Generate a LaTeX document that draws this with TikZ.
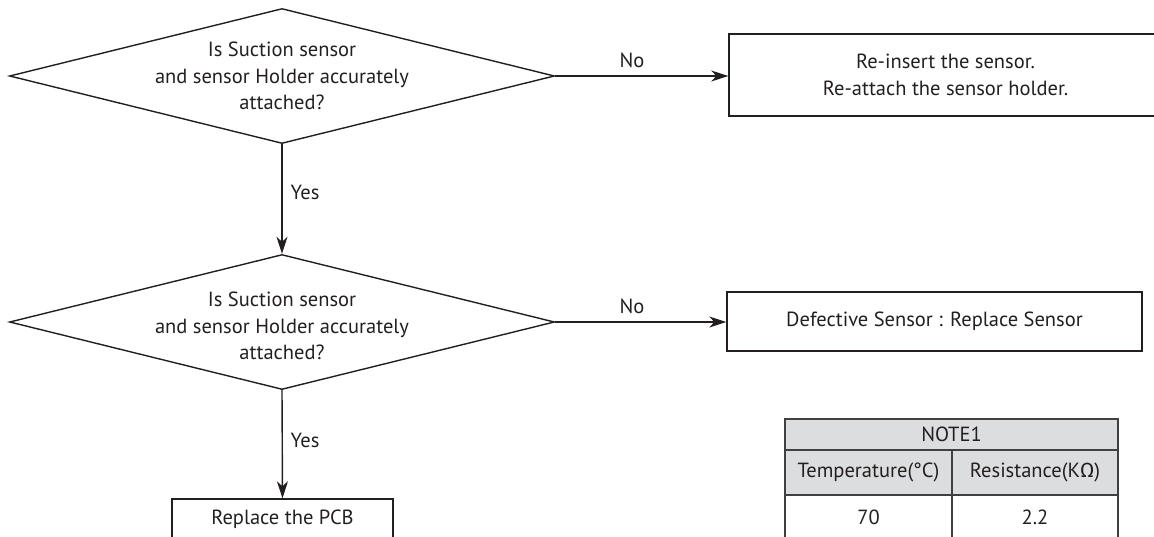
\documentclass[tikz,border=0pt]{standalone}
\usepackage{fontspec}
\setmainfont{PT Sans}
\newfontfamily\grkfont{Fira Sans}
\usetikzlibrary{shapes.geometric,arrows.meta,calc}
\definecolor{ink}{HTML}{231F20}
\definecolor{cellgrey}{HTML}{DCDDDE}
\definecolor{gridline}{HTML}{404040}
\begin{document}
\begin{tikzpicture}[x=1pt,y=-1pt,
  every node/.style={font=\fontsize{20.5}{26.5}\selectfont, text=ink},
  decision/.style={draw=ink, line width=1.4pt, diamond, inner sep=0pt,
    minimum width=545pt, minimum height=135pt},
  qtext/.style={align=center, inner sep=0pt},
  action/.style={draw=ink, line width=1.4pt, rectangle, align=center, inner sep=0pt},
  flow/.style={draw=ink, line width=1.4pt, -{Stealth[length=17pt,width=11pt,inset=5pt]}},
  edgelabel/.style={inner sep=0pt},
  cell/.style={draw=gridline, line width=1.5pt, rectangle, inner sep=0pt, align=center},
  headcell/.style={cell, fill=cellgrey}]
\useasboundingbox (0,0) rectangle (1154,536);
\clip (0,0) rectangle (1154,536);

% first check
\node[decision] (d1) at (282,76) {};
\node[qtext] (q1) at (282,76) {Is Suction sensor\\and sensor Holder accurately\\attached?};
\node[action, minimum width=433pt, minimum height=82pt] (b1) at (945.5,75)
  {Re-insert the sensor.\\Re-attach the sensor holder.};
\draw[flow] (d1.east) -- (d1.east -| b1.west);
\node[edgelabel] (no1) at (632,60) {No};

% second check
\node[decision] (d2) at (282,322) {};
\node[qtext] (q2) at (282,326) {Is Suction sensor\\and sensor Holder accurately\\attached?};
\node[action, minimum width=415pt, minimum height=59pt] (b2) at (934.5,321.5)
  {Defective Sensor : Replace Sensor};
\draw[flow] (d2.east) -- (d2.east -| b2.west);
\node[edgelabel] (no2) at (632,306) {No};

\draw[flow] (d1.south) -- (d2.north);
\node[edgelabel] (yes1) at (305,192) {Yes};

% final action
\node[action, minimum width=221pt, minimum height=41pt] (b3) at (282.5,519.5) {Replace the PCB};
\draw[flow] (d2.south) -- (b3.north);
\node[edgelabel] (yes2) at (305,440) {Yes};

% resistance table
\node[headcell, minimum width=333pt, minimum height=31pt] (note) at (951.5,434.5) {NOTE1};
\node[headcell, minimum width=167pt, minimum height=45pt] (th1) at (868.5,472.5) {Temperature(°C)};
\node[headcell, minimum width=166pt, minimum height=45pt] (th2) at (1035,472.5) {Resistance(K{\grkfont Ω})};
\node[cell, minimum width=167pt, minimum height=45pt] (td1) at (868.5,517.5) {70};
\node[cell, minimum width=166pt, minimum height=45pt] (td2) at (1035,517.5) {2.2};
\end{tikzpicture}
\end{document}
